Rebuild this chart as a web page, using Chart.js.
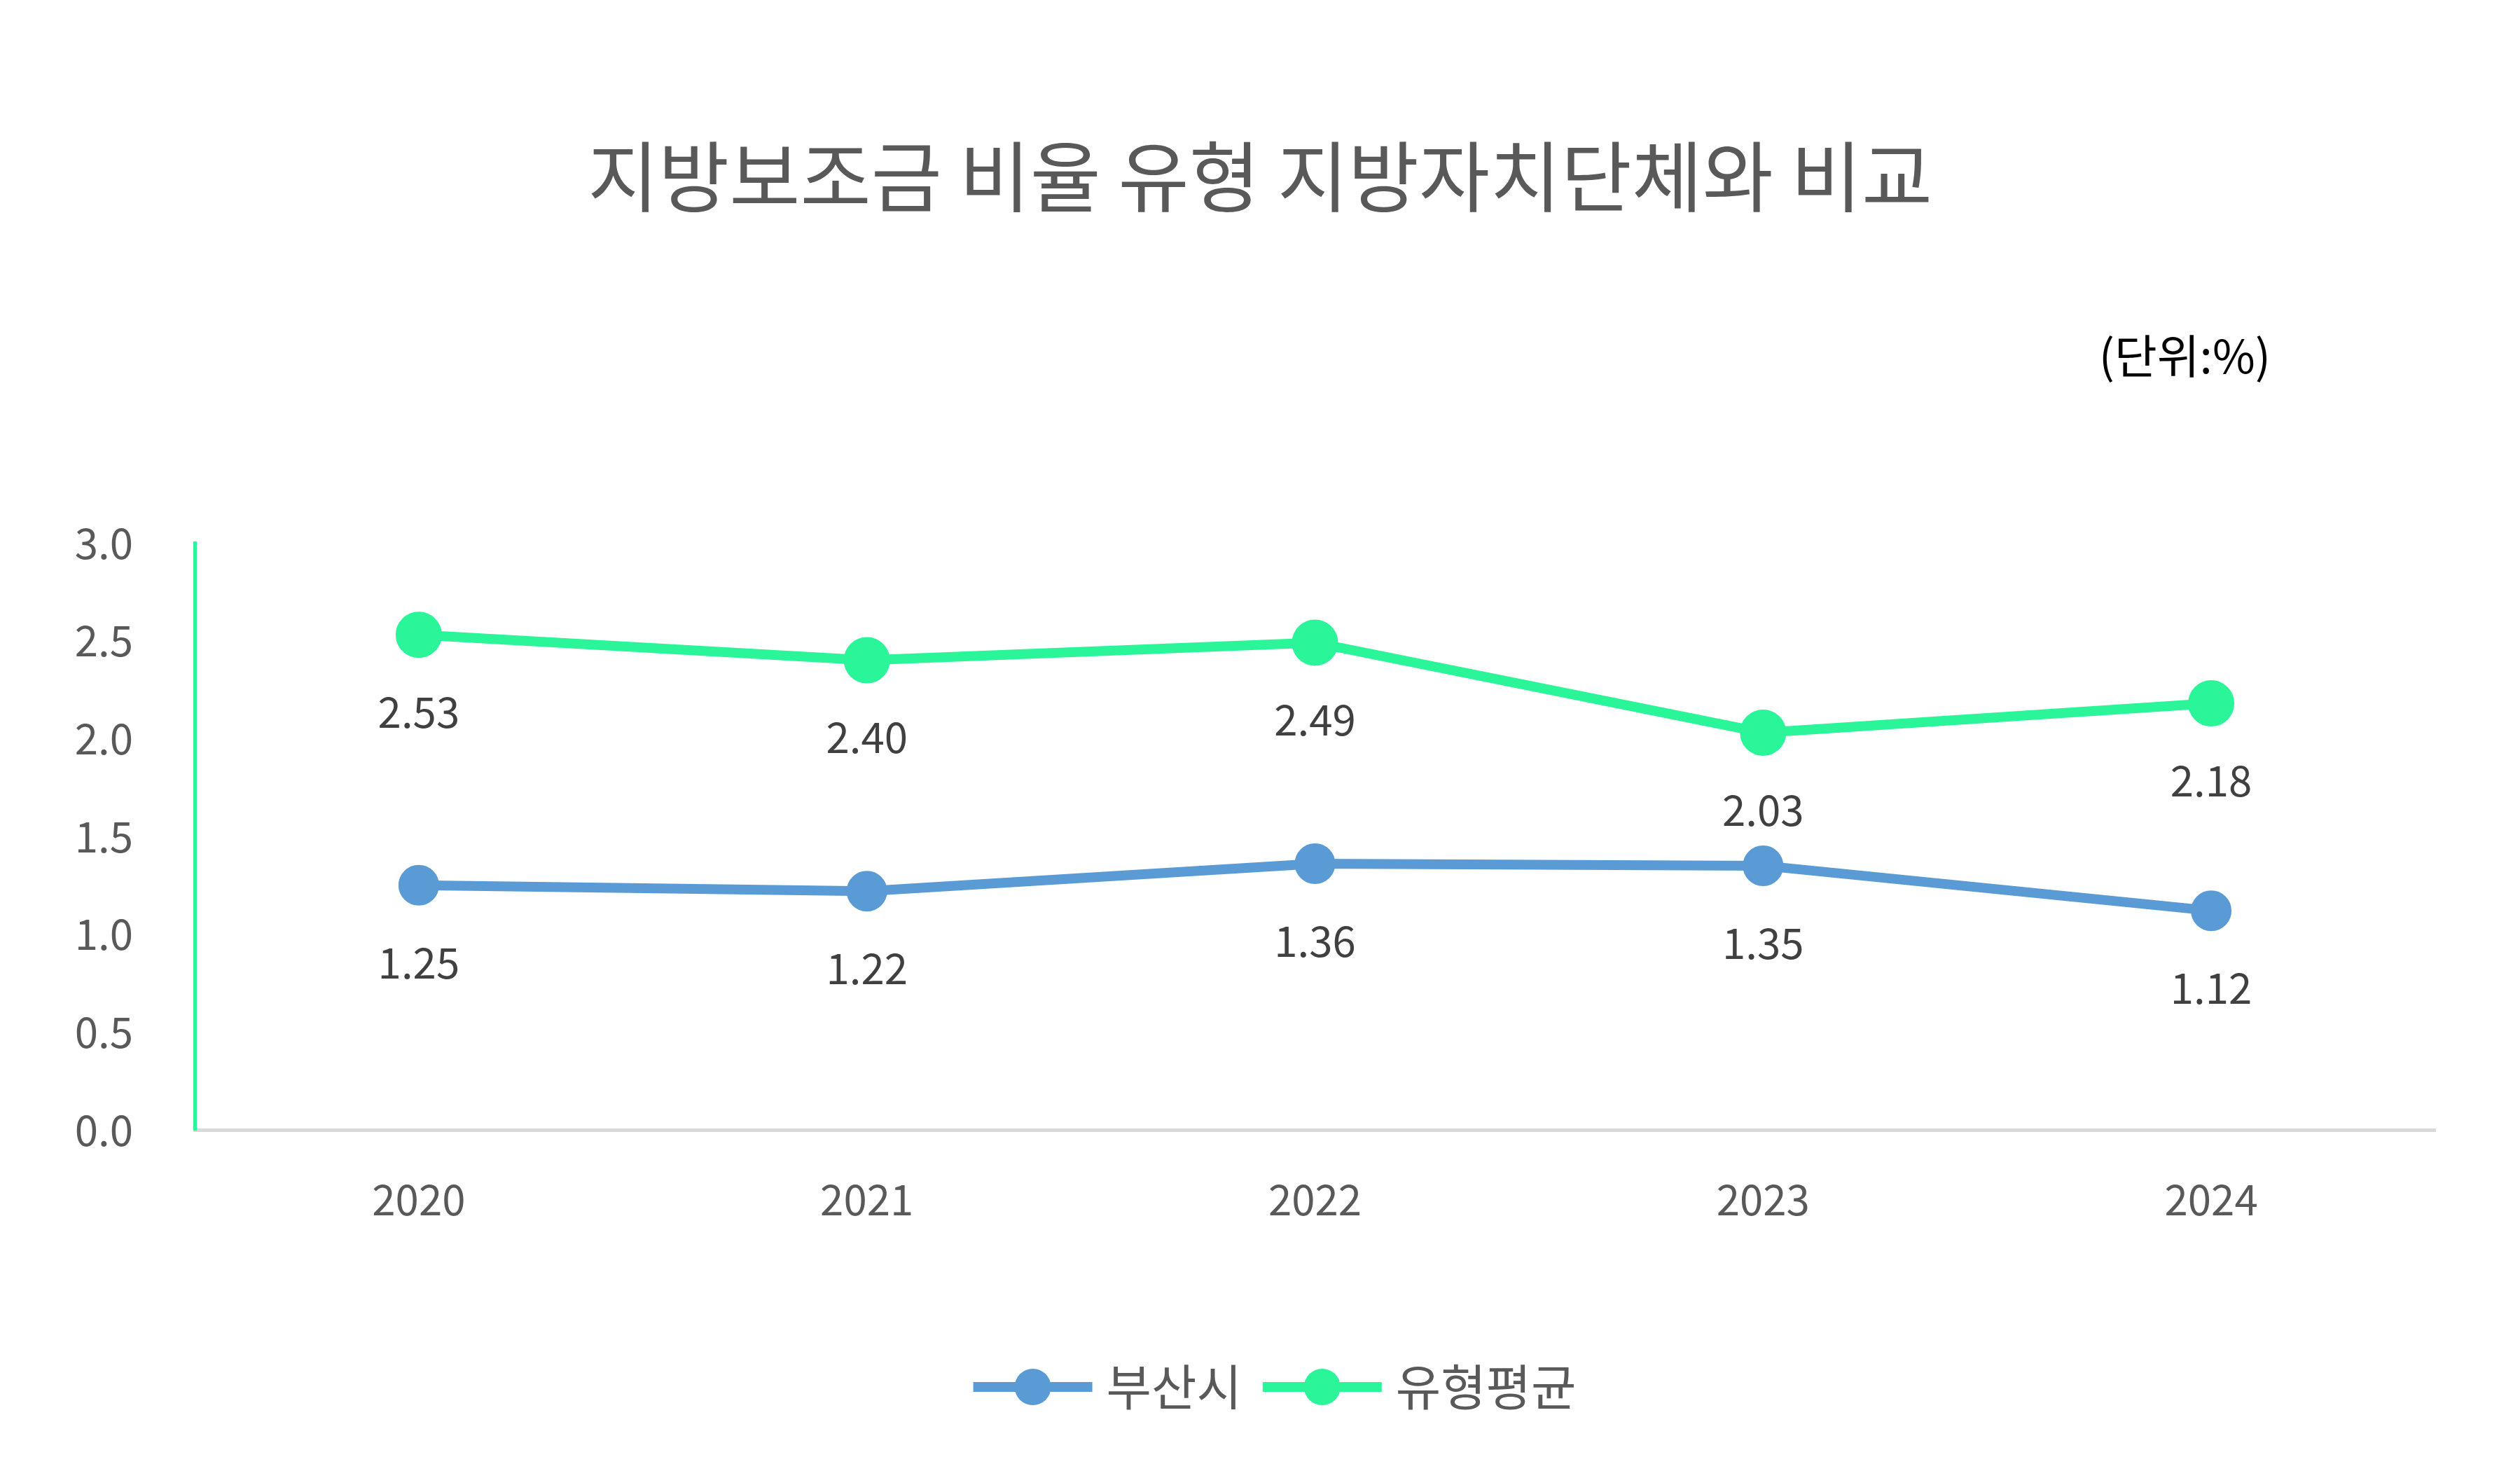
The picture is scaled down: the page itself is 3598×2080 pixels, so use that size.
<!DOCTYPE html>
<html><head><meta charset="utf-8">
<script src="https://cdn.jsdelivr.net/npm/chart.js@4/dist/chart.umd.min.js"></script>
<style>html,body{margin:0;background:#fff}canvas{display:block}</style>
</head><body>
<canvas id="c" width="3598" height="2080" style="width:3598px;height:2080px"></canvas>
<script>
// chart data
const years = ['2020', '2021', '2022', '2023', '2024'];
const busan = [1.25, 1.22, 1.36, 1.35, 1.12];
const typeAvg = [2.53, 2.40, 2.49, 2.03, 2.18];
const seriesNames = ['부산시', '유형평균'];
const titleText = '지방보조금 비율 유형 지방자치단체와 비교';
const unitText = '(단위:%)';

const FONT = '"Noto Sans CJK KR", "Noto Sans", sans-serif';
const BLUE = '#5B9BD5', GREEN = '#2AF598';

// title, unit, data labels and legend
const extras = {
    id: 'extras',
    afterDatasetsDraw(chart) {
        const ctx = chart.ctx;
        ctx.save();
        ctx.fillStyle = '#595959';
        ctx.font = '110px ' + FONT;
        ctx.textAlign = 'center';
        ctx.textBaseline = 'middle';
        ctx.fillText(titleText, 1799, 252);

        ctx.fillStyle = '#000';
        ctx.font = '66px ' + FONT;
        ctx.textAlign = 'right';
        ctx.fillText(unitText, 3242, 508);

        // value labels under each point
        ctx.fillStyle = '#404040';
        ctx.font = '60px ' + FONT;
        ctx.textAlign = 'center';
        chart.data.datasets.forEach((ds, i) => {
            chart.getDatasetMeta(i).data.forEach((pt, j) => {
                ctx.fillText(ds.data[j].toFixed(2), pt.x, pt.y + 110);
            });
        });

        // legend
        ctx.font = '70px ' + FONT;
        ctx.textAlign = 'left';
        const lineW = 170, gap = 20, spacing = 30;
        const widths = seriesNames.map(n => lineW + gap + ctx.measureText(n).width);
        let x = 1820 - (widths[0] + widths[1] + spacing) / 2;
        const y = 1980;
        chart.data.datasets.forEach((ds, i) => {
            ctx.strokeStyle = ds.borderColor;
            ctx.lineWidth = 14;
            ctx.beginPath(); ctx.moveTo(x, y); ctx.lineTo(x + lineW, y); ctx.stroke();
            ctx.fillStyle = ds.borderColor;
            ctx.beginPath(); ctx.arc(x + lineW / 2, y, 26, 0, Math.PI * 2); ctx.fill();
            ctx.fillStyle = '#595959';
            ctx.fillText(seriesNames[i], x + lineW + gap, y);
            x += widths[i] + spacing;
        });
        ctx.restore();
    }
};

new Chart(document.getElementById('c'), {
    type: 'line',
    data: {
        labels: years,
        datasets: [
            { label: seriesNames[0], data: busan, borderColor: BLUE, backgroundColor: BLUE,
              borderWidth: 14, pointRadius: 22, pointBackgroundColor: BLUE, tension: 0 },
            { label: seriesNames[1], data: typeAvg, borderColor: GREEN, backgroundColor: GREEN,
              borderWidth: 14, pointRadius: 26, pointBackgroundColor: GREEN, tension: 0 }
        ]
    },
    plugins: [extras],
    options: {
        responsive: false,
        animation: false,
        layout: { padding: { left: 0, right: 121, top: 775, bottom: 267 } },
        plugins: { legend: { display: false }, tooltip: { enabled: false } },
        scales: {
            x: {
                offset: true,
                grid: { display: false },
                border: { color: '#D9D9D9', width: 5 },
                ticks: { color: '#595959', font: { size: 60, family: FONT }, padding: 55 },
                afterFit: s => { s.height = 200; }
            },
            y: {
                min: 0, max: 3,
                grid: { display: false },
                border: { color: GREEN, width: 5 },
                ticks: { stepSize: 0.5, color: '#595959', font: { size: 60, family: FONT }, padding: 80,
                         callback: v => v.toFixed(1) },
                afterFit: s => { s.width = 278; }
            }
        }
    }
});
</script>
</body></html>
